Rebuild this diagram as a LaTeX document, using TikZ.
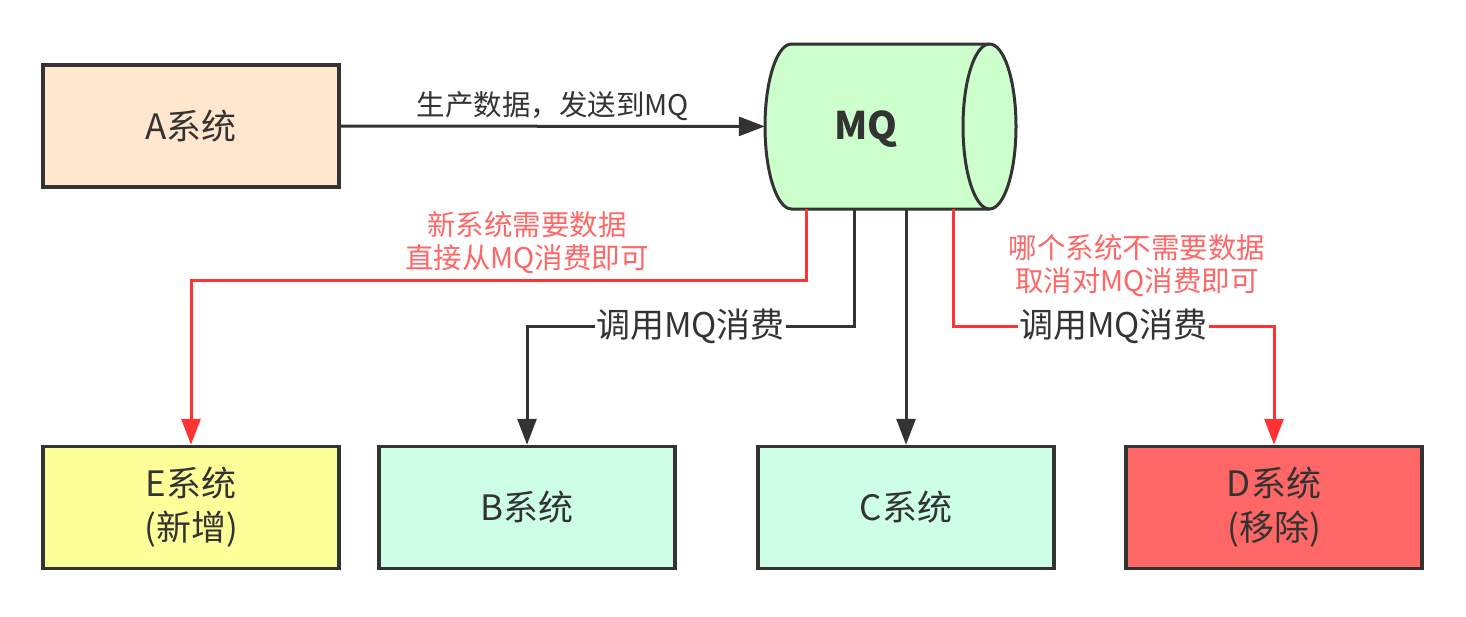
\documentclass[tikz,border=0pt]{standalone}
\usepackage{fontspec}
\setmainfont{Noto Sans CJK SC}
\usepackage{xcolor}
\usetikzlibrary{arrows.meta}
\definecolor{dark}{HTML}{333333}
\definecolor{redline}{HTML}{FF3333}
\definecolor{redtext}{HTML}{FF6666}
\definecolor{peach}{HTML}{FFE6CC}
\definecolor{mint}{HTML}{CCFFCC}
\definecolor{aqua}{HTML}{CCFFE6}
\definecolor{lemon}{HTML}{FFFF99}
\definecolor{tomato}{HTML}{FF6666}

\begin{document}
\begin{tikzpicture}[
			     x=1pt, y=-1pt,
			     >={Triangle[length=26pt,width=19pt]},
			     sysbox/.style={draw=dark, line width=3.5pt, minimum width=296pt, minimum height=122pt,
			                    text=dark, align=center, font=\fontsize{35}{44}\selectfont},
			     descr/.style={fill=white, inner sep=1pt, text=dark, font=\fontsize{34}{38}\selectfont},
			     note/.style={text=redtext, align=center, font=\fontsize{28.5}{33}\selectfont},
			     normal line/.style={->, draw=dark, line width=3pt},
			     red line/.style={->, draw=redline, line width=3pt}
			     ]
\useasboundingbox (0,0) rectangle (1466,616);
% systems
\node[sysbox, fill=peach] (a) at (191,126) {A系统};
\node[sysbox, fill=lemon] (e) at (191,507.5) {E系统\\(新增)};
\node[sysbox, fill=aqua] (b) at (527,507.5) {B系统};
\node[sysbox, fill=aqua] (c) at (906,507.5) {C系统};
\node[sysbox, fill=tomato] (d) at (1274,507.5) {D系统\\(移除)};
% queue
\filldraw[fill=mint, draw=dark, line width=3pt]
  (791.5,44) -- (989.5,44) arc (-90:90:26.5 and 82.5) -- (791.5,209) arc (90:270:26.5 and 82.5) -- cycle;
\draw[dark, line width=3pt] (989.5,44) arc (270:90:26.5 and 82.5);
\node[minimum width=251pt, minimum height=165pt] (mq) at (890.5,126.5) {};
\node[text=dark, font=\fontsize{38}{40}\selectfont\bfseries] (mqlabel) at (866,129) {MQ};
% connectors
\path (a) edge[normal line] node[above=1pt, text=dark, font=\fontsize{28.5}{32}\selectfont] {生产数据，发送到MQ} (mq);
\draw[red line] ([xshift=-84.5pt]mq.south) -- ++(0,71) -| (e.north);
\draw[normal line] ([xshift=-36.5pt]mq.south) -- ++(0,117) -| node[descr, pos=0.25] {调用MQ消费} (b.north);
\draw[normal line] (mq.south -| c.north) -- (c.north);
\draw[red line] ([xshift=62.5pt]mq.south) -- ++(0,117) -| node[descr, pos=0.25] {调用MQ消费} (d.north);
% notes
\node[note] (newnote) at (527,243) {新系统需要数据\\直接从MQ消费即可};
\node[note] (dropnote) at (1137,266) {哪个系统不需要数据\\取消对MQ消费即可};
\end{tikzpicture}
\end{document}
